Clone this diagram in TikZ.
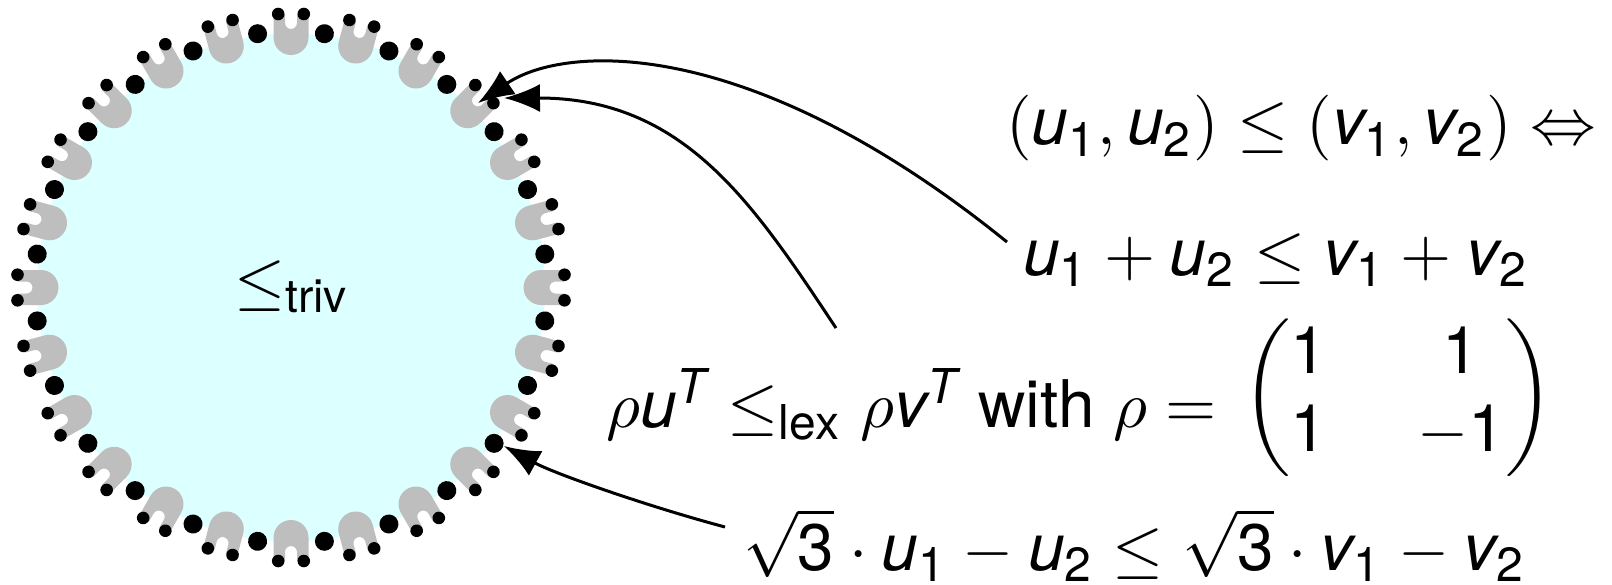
\documentclass[tikz,border=0pt]{standalone}
\usepackage{amsmath}
\usepackage{fontspec}
\setmainfont{TeX Gyre Heros}
\DeclareSymbolFont{cmops}{OT1}{cmr}{m}{n}
\DeclareMathSymbol{+}{\mathbin}{cmops}{"2B}
\DeclareMathSymbol{=}{\mathrel}{cmops}{"3D}
\DeclareMathDelimiter{(}{\mathopen}{cmops}{"28}{largesymbols}{"00}
\DeclareMathDelimiter{)}{\mathclose}{cmops}{"29}{largesymbols}{"01}
\usetikzlibrary{arrows.meta}
\definecolor{ringfill}{RGB}{220,255,255}
\definecolor{ugrey}{RGB}{190,190,190}
\newcommand{\vu}{\mathit{u}}
\newcommand{\vv}{\mathit{v}}
\newcommand{\vT}{\mathit{T}}
\newcommand{\dg}[1]{\mathrm{#1}}
\begin{document}
\begin{tikzpicture}[x=0.1666667pt,y=0.1666667pt,scale=3,
  arr/.style={line width=1.5pt,-{Latex[length=18pt,width=14pt]}},
  lbl/.style={inner sep=0pt,anchor=base west,transform shape,font=\fontsize{10.95}{13}\selectfont}]
\useasboundingbox (0,0) rectangle (1612,584);
% disk
\coordinate (C) at (291,296.5);
\fill[ringfill] (C) circle (254);
% ring of U shapes and dots
\foreach \k in {0,...,23}{
  \pgfmathsetmacro{\a}{15*\k}
  \begin{scope}[shift={(C)}, rotate=\a]
    \fill[ugrey] (273.5,17.5) -- (250,17.5) arc[start angle=90,end angle=270,radius=17.5]
      -- (273.5,-17.5) -- (273.5,-6) -- (264.5,-6) arc[start angle=270,end angle=90,radius=6]
      -- (273.5,6) -- cycle;
    \fill[black] (273.5,12.8) circle (6.3);
    \fill[black] (273.5,-12.8) circle (6.3);
    \fill[black] (7.5:256) circle (9.5);
  \end{scope}
}
% labels
\node[lbl] (triv) at (233,282) {$\leq_{\mbox{\fontsize{7.7}{9}\selectfont triv}}$};
\node[lbl] (eq1) at (1005,439) {$(\vu_{\dg1},\vu_{\dg2})\leq(\vv_{\dg1},\vv_{\dg2})\Leftrightarrow$};
\node[lbl] (eq2) at (1022,309) {$\vu_{\dg1}+\vu_{\dg2}\leq \vv_{\dg1}+\vv_{\dg2}$};
\node[lbl] (eq3) at (605,157) {$\rho \vu^{\vT}\leq_{\mathrm{lex}}\rho \vv^{\vT}$ with $\rho=\raisebox{2.2pt}{$\hspace{1.3pt}\arraycolsep=7.5pt\begin{pmatrix}\dg1&\dg1\\\dg1&-\dg1\end{pmatrix}$}$};
\node[lbl] (eq4) at (742,14) {$\sqrt{\dg3}\cdot \vu_{\dg1}-\vu_{\dg2}\leq\sqrt{\dg3}\cdot \vv_{\dg1}-\vv_{\dg2}$};
% arrow ends
\coordinate (s1) at (1007,342);
\coordinate (t1) at (478,481);
\coordinate (s2) at (836,256);
\coordinate (t2) at (504,486);
\coordinate (s3) at (725,57);
\coordinate (t3) at (504,138);
\draw[arr] (s1) .. controls (750,550) and (565,540) .. (t1);
\draw[arr] (s2) .. controls (753,381) and (684,486) .. (t2);
\draw[arr] (s3) .. controls (650,77) and (555,110) .. (t3);
\end{tikzpicture}
\end{document}
